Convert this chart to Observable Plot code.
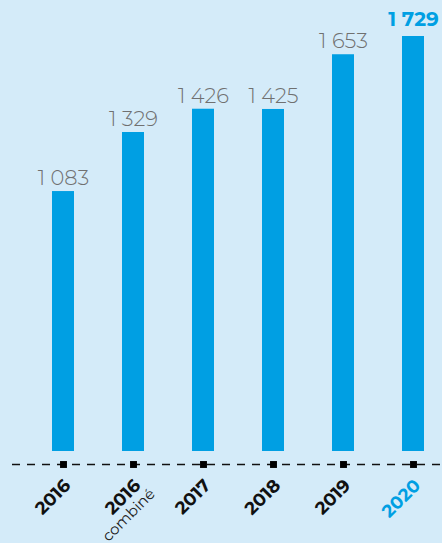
<!DOCTYPE html>
<html>
<head>
<meta charset="utf-8">
<script src="https://cdn.jsdelivr.net/npm/d3@7"></script>
<script src="https://cdn.jsdelivr.net/npm/@observablehq/plot@0.6"></script>
<style>
  html, body { margin: 0; padding: 0; background: #d4ebf9; }
  #chart svg { display: block; }
</style>
</head>
<body>
<div id="chart"></div>
<script>
const categories = ["2016", "2016 combiné", "2017", "2018", "2019", "2020"];
const yearLabels = ["2016", "2016", "2017", "2018", "2019", "2020"];
const subLabels = ["", "combiné", "", "", "", ""];
const values = [1083, 1329, 1426, 1425, 1653, 1729];
const highlight = "2020";

const data = categories.map((c, i) => ({
  cat: c, year: yearLabels[i], sub: subLabels[i], value: values[i], hi: c === highlight
}));
const fmt = v => d3.format(",")(v).replace(/,/g, " ");

const chart = Plot.plot({
  width: 442,
  height: 543,
  marginLeft: 12,
  marginRight: 0,
  marginTop: 36,
  marginBottom: 92,
  style: { background: "transparent", fontFamily: "Montserrat, Lato, 'Open Sans', sans-serif", overflow: "visible" },
  x: { domain: categories, range: [51, 424], paddingInner: 0.687, paddingOuter: 0, axis: null },
  y: { domain: [0, 1729], axis: null },
  marks: [
    Plot.barY(data, { x: "cat", y: "value", fill: "#009fe3" }),
    Plot.text(data.filter(d => !d.hi), {
      x: "cat", y: "value", text: d => fmt(d.value), dy: -13,
      fill: "#707070", fontSize: 21, fontWeight: 300
    }),
    Plot.text(data.filter(d => d.hi), {
      x: "cat", y: "value", text: d => fmt(d.value), dy: -17,
      fill: "#009fe3", fontSize: 20, fontWeight: "bold"
    }),
    Plot.ruleY([0], { dy: 13, stroke: "#111", strokeWidth: 1.4, strokeDasharray: "8,7" }),
    Plot.dot(data, { x: "cat", y: 0, dy: 13, symbol: "square", r: 3.9, fill: "#000" }),
    Plot.text(data, {
      x: "cat", y: 0, text: "year", dx: 4, dy: 31, rotate: -45, textAnchor: "end",
      fill: d => d.hi ? "#009fe3" : "#111", fontSize: 18, fontWeight: "bold"
    }),
    Plot.text(data.filter(d => d.sub), {
      x: "cat", y: 0, text: "sub", dx: 19, dy: 40, rotate: -45, textAnchor: "end",
      fill: "#222", fontSize: 15
    })
  ]
});
document.getElementById("chart").append(chart);
</script>
</body>
</html>
